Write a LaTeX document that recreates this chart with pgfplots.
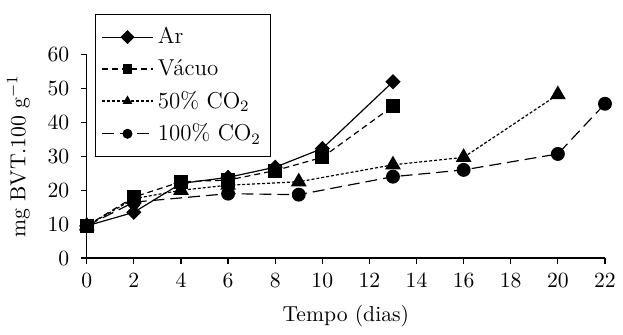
\documentclass[border=0pt,11pt]{standalone}
\usepackage{pgfplots}
\pgfplotsset{compat=1.18}
\begin{document}
\begin{tikzpicture}
\begin{axis}[
  width=261bp, height=102.5bp, scale only axis,
  xmin=0, xmax=22, ymin=0, ymax=60,
  xtick={0,2,...,22}, ytick={0,10,...,60},
  axis x line=bottom, axis y line=left,
  axis line style={-, black, line width=0.6pt},
  tick align=outside, major tick length=3bp,
  tick style={black, line width=0.6pt},
  xlabel={Tempo (dias)}, ylabel={mg BVT.100 g$^{-1}$},
  xticklabel style={yshift=-1bp},
  yticklabel style={xshift=-2bp},
  xlabel style={yshift=-1.5bp},
  ylabel style={yshift=1.5bp},
  clip=false,
  legend cell align=left,
  legend style={at={(0.015,1.2)}, anchor=north west, draw=black, line width=0.6pt,
     row sep=2.2bp, inner ysep=4.5bp, inner xsep=3bp, font=\fontsize{11.6}{13}\selectfont},
  legend image code/.code={\draw[#1] (0bp,0bp) -- (26bp,0bp); \draw[#1, solid, mark size=2.2bp] plot coordinates {(13bp,0bp)};},
]
\path (axis description cs:0,1.2) -- ++(0,7bp);
\addplot[black, line width=0.6pt, solid, mark=square*, mark size=2.4bp, mark options={rotate=45}] coordinates {
(0,9.5) (2,13.5) (4,22) (6,23.8) (8,26.8) (10,32.3) (13,52)};
\addlegendentry{Ar}
\addplot[black, line width=0.6pt, dash pattern=on 3bp off 2bp, mark=square*, mark size=3.2bp, mark options={solid}] coordinates {
(0,9.5) (2,18) (4,22.5) (6,23) (8,25.8) (10,29.7) (13,44.8)};
\addlegendentry{Vácuo}
\addplot[black, line width=0.6pt, dash pattern=on 1.5bp off 1bp, mark=triangle*, mark size=4bp, mark options={solid}] coordinates {
(0,9.5) (2,17.5) (4,20) (6,21.5) (9,22.5) (13,27.5) (16,29.7) (20,48.2)};
\addlegendentry{50\% CO$_2$}
\addplot[black, line width=0.6pt, dash pattern=on 6bp off 3bp, mark=*, mark size=3.2bp, mark options={solid}] coordinates {
(0,9.5) (2,16.5) (6,19) (9,18.7) (13,24) (16,26) (20,30.7) (22,45.5)};
\addlegendentry{100\% CO$_2$}
\end{axis}
\end{tikzpicture}
\end{document}
